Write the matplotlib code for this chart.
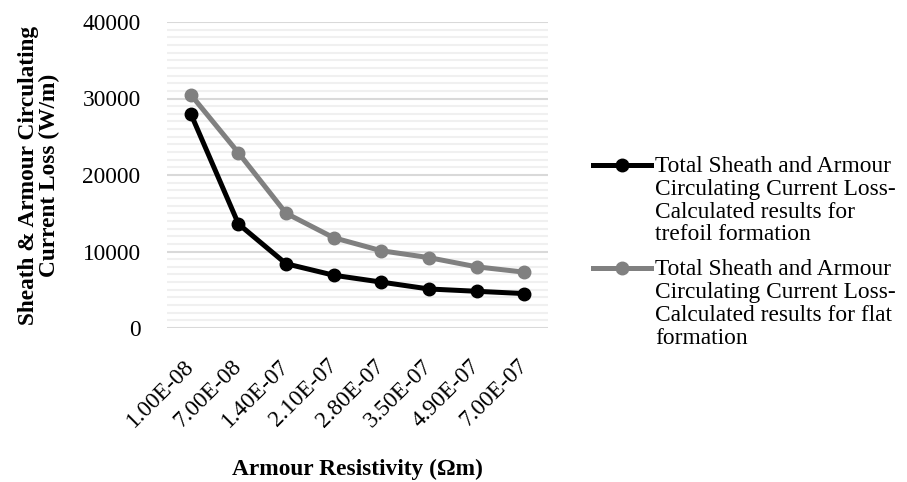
import matplotlib
matplotlib.use("Agg")
import matplotlib.pyplot as plt
from matplotlib.ticker import MultipleLocator
from matplotlib.legend_handler import HandlerLine2D

categories = ["1.00E-08", "7.00E-08", "1.40E-07", "2.10E-07", "2.80E-07", "3.50E-07", "4.90E-07", "7.00E-07"]
trefoil = [28000, 13600, 8400, 6900, 6000, 5100, 4800, 4500]
flat = [30500, 22900, 15000, 11800, 10100, 9200, 8000, 7300]
labels = [
    "Total Sheath and Armour\nCirculating Current Loss-\nCalculated results for\ntrefoil formation",
    "Total Sheath and Armour\nCirculating Current Loss-\nCalculated results for flat\nformation",
]
y_ticks = [0, 10000, 20000, 30000, 40000]

plt.rcParams['font.family'] = ['Liberation Serif', 'DejaVu Serif']
fs = 16.8


class ShiftedHandler(HandlerLine2D):
    def __init__(self, shift, **kw):
        super().__init__(**kw)
        self.shift = shift

    def create_artists(self, legend, orig_handle, xdescent, ydescent, width, height, fontsize, trans):
        arts = super().create_artists(legend, orig_handle, xdescent, ydescent, width, height, fontsize, trans)
        for a in arts:
            yd = a.get_ydata()
            a.set_ydata([v + self.shift for v in yd])
        return arts


fig = plt.figure(figsize=(9.07, 4.82), dpi=100)
ax = fig.add_axes([167/907, 1-328/482, (548-167)/907, (328-22)/482])

x = list(range(len(categories)))
l1, = ax.plot(x, trefoil, color='black', lw=3.6, marker='o', ms=9, label=labels[0], zorder=3)
l2, = ax.plot(x, flat, color='#808080', lw=3.6, marker='o', ms=9, label=labels[1], zorder=3)

ax.set_xlim(-0.5, len(categories) - 0.5)
ax.set_ylim(0, 40000)
ax.set_yticks(y_ticks)
ax.set_yticklabels([str(v) for v in y_ticks], fontsize=fs)
ax.yaxis.set_minor_locator(MultipleLocator(1000))
ax.grid(which='major', axis='y', color='#d9d9d9', lw=1.5)
ax.grid(which='minor', axis='y', color='#f0f0f0', lw=1.5)
ax.set_axisbelow(True)
for s in ax.spines.values():
    s.set_visible(False)
ax.tick_params(which='both', length=0)
ax.tick_params(axis='y', pad=19)
ax.set_xticks(x)
ax.set_xticklabels(categories, rotation=45, ha='right', va='center', rotation_mode='anchor', fontsize=fs)
ax.tick_params(axis='x', pad=25)

ax.set_xlabel("Armour Resistivity (Ωm)", fontsize=fs, fontweight='bold', labelpad=20)
ax.set_ylabel("Sheath & Armour Circulating\nCurrent Loss (W/m)", fontsize=fs, fontweight='bold', labelpad=16, linespacing=1.0)

shift = 25.5
leg = fig.legend(handles=[l1, l2], loc='upper left', bbox_to_anchor=(593/907, 1-156/482),
                 frameon=False, fontsize=fs, handlelength=2.5, handletextpad=0.15,
                 labelspacing=0.6, borderaxespad=0, borderpad=0,
                 handler_map={l1: ShiftedHandler(shift), l2: ShiftedHandler(shift)})
for t in leg.get_texts():
    t.set_linespacing(1.11)

fig.savefig("out.png", dpi=100)
